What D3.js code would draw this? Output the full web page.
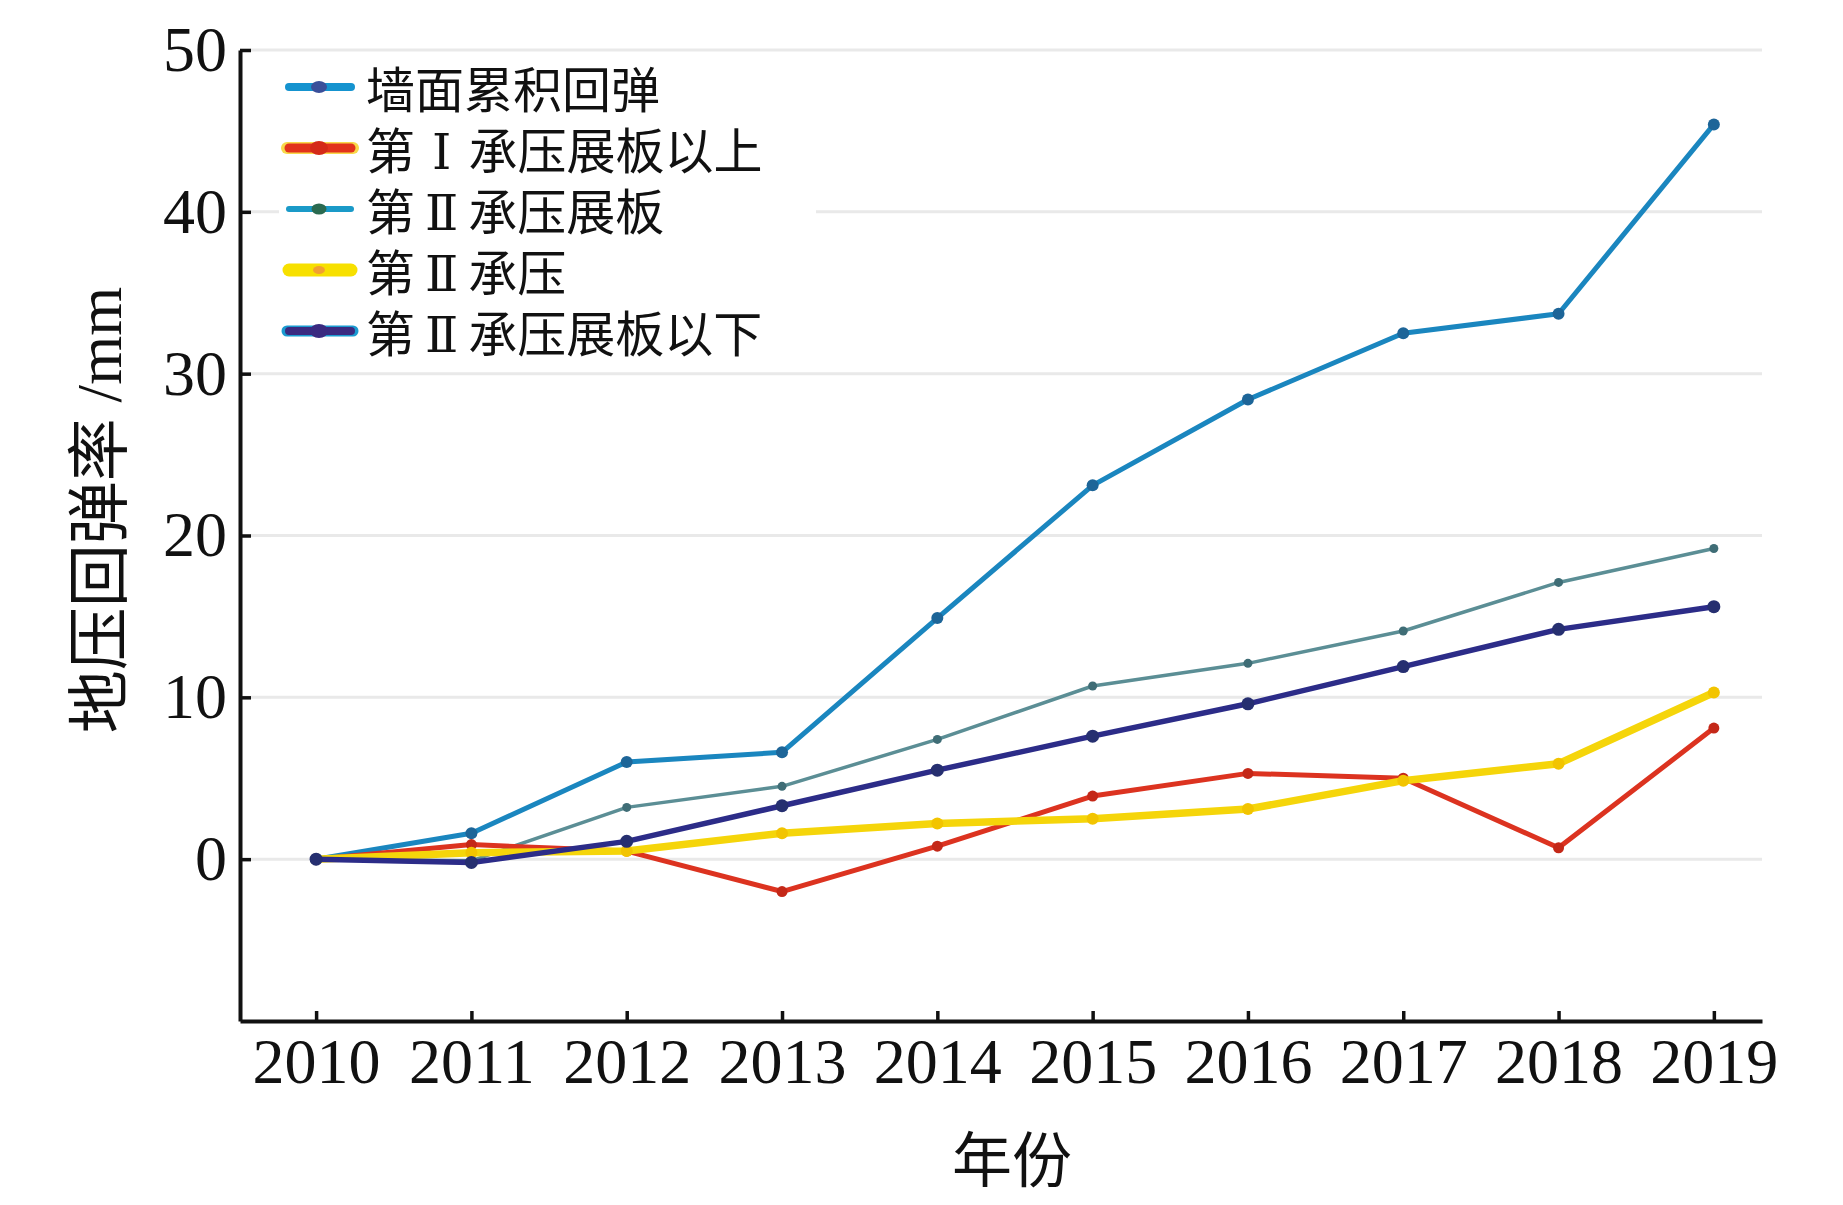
<!DOCTYPE html>
<html>
<head>
<meta charset="utf-8">
<script src="https://cdn.jsdelivr.net/npm/d3@7/dist/d3.min.js"></script>
<style>
  html, body { margin: 0; padding: 0; background: #fff; }
  svg { display: block; }
</style>
</head>
<body>
<svg id="chart" width="1843" height="1205"></svg>
<script>
// ---- data ----
const years = [2010, 2011, 2012, 2013, 2014, 2015, 2016, 2017, 2018, 2019];
const yTicks = [0, 10, 20, 30, 40, 50];
const seriesNames = ["墙面累积回弹", "第Ⅰ承压展板以上", "第Ⅱ承压展板", "第Ⅱ承压", "第Ⅱ承压展板以下"];
const wallRebound = [0, 1.6, 6.0, 6.6, 14.9, 23.1, 28.4, 32.5, 33.7, 45.4];
const aboveI      = [0, 0.9, 0.5, -2.0, 0.8, 3.9, 5.3, 5.0, 0.7, 8.1];
const plateII     = [0, -0.1, 3.2, 4.5, 7.4, 10.7, 12.1, 14.1, 17.1, 19.2];
const confinedII  = [0, 0.4, 0.5, 1.6, 2.2, 2.5, 3.1, 4.85, 5.9, 10.3];
const belowII     = [0, -0.2, 1.1, 3.3, 5.5, 7.6, 9.6, 11.9, 14.2, 15.6];
const xTitle = "年份";
const yTitle = "地压回弹率 /mm";

// ---- styles ----
const styles = [
  { values: wallRebound, color: "#1a86bf", width: 5,   r: 6,   mark: "#1d6598" },
  { values: aboveI,      color: "#dc3320", width: 5,   r: 5.5, mark: "#c42818" },
  { values: plateII,     color: "#5b8e95", width: 3.5, r: 4.5, mark: "#3f6d76" },
  { values: confinedII,  color: "#f5d50a", width: 7.5, r: 6,   mark: "#f2c400" },
  { values: belowII,     color: "#2c2c88", width: 5.5, r: 6.5, mark: "#262f70" }
];
const legendStyles = [
  { line: "#1593cf", w: 8,  halo: null,      dot: "#3a4f9a", dr: 6 },
  { line: "#e2321c", w: 9,  halo: "#f8d84a", dot: "#d42a18", dr: 7 },
  { line: "#1a9ac8", w: 6,  halo: null,      dot: "#2a6a50", dr: 5.5 },
  { line: "#f7e000", w: 13, halo: null,      dot: "#f2a030", dr: 4 },
  { line: "#3a2a80", w: 8,  halo: "#1a9ad0", dot: "#3a2a80", dr: 7 }
];
const drawOrder = [0, 2, 1, 3, 4];

const svg = d3.select("#chart");
const x = d3.scaleLinear().domain([2009.51, 2019.31]).range([240, 1762]);
const y = d3.scaleLinear().domain([-10, 50]).range([1021, 50]);

const serif = "'Liberation Serif','Times New Roman',serif";
const cjk = "'Liberation Serif','Noto Sans CJK SC',serif";
const roman = "'DejaVu Serif','Noto Serif','Liberation Serif','Noto Sans CJK SC',serif";

// gridlines
svg.append("g").selectAll("line").data(yTicks).join("line")
  .attr("x1", x.range()[0]).attr("x2", x.range()[1])
  .attr("y1", d => y(d)).attr("y2", d => y(d))
  .attr("stroke", "#e9e9e9").attr("stroke-width", 3);

// series
const line = d3.line().x((d, i) => x(years[i])).y(d => y(d));
const plot = svg.append("g");
drawOrder.forEach(k => {
  const s = styles[k];
  const g = plot.append("g");
  g.append("path").datum(s.values)
    .attr("d", line).attr("fill", "none")
    .attr("stroke", s.color).attr("stroke-width", s.width)
    .attr("stroke-linejoin", "round").attr("stroke-linecap", "round");
  g.selectAll("circle").data(s.values).join("circle")
    .attr("cx", (d, i) => x(years[i])).attr("cy", d => y(d))
    .attr("r", s.r).attr("fill", s.mark);
});

// legend
const lg = svg.append("g");
lg.append("rect").attr("x", 279).attr("y", 58).attr("width", 537).attr("height", 302).attr("fill", "#fff");
seriesNames.forEach((name, i) => {
  const ls = legendStyles[i];
  const cy = 87 + 61 * i;
  if (ls.halo) {
    lg.append("line").attr("x1", 287).attr("x2", 353).attr("y1", cy).attr("y2", cy)
      .attr("stroke", ls.halo).attr("stroke-width", ls.w + 3).attr("stroke-linecap", "round");
  }
  lg.append("line").attr("x1", 289).attr("x2", 351).attr("y1", cy).attr("y2", cy)
    .attr("stroke", ls.line).attr("stroke-width", ls.w).attr("stroke-linecap", "round");
  lg.append("ellipse").attr("cx", 319).attr("cy", cy).attr("rx", ls.dr + 2).attr("ry", ls.dr)
    .attr("fill", ls.dot);
  const t = lg.append("text").attr("x", 366).attr("y", cy + 21)
    .attr("font-family", cjk).attr("font-size", 49).attr("fill", "#111");
  const parts = name.split(/(Ⅰ|Ⅱ)/);
  if (parts.length === 1) {
    t.text(name);
  } else {
    const pad = parts[1] === "Ⅰ" ? 17 : 10;
    t.append("tspan").text(parts[0]);
    t.append("tspan").attr("dx", pad).attr("font-family", roman).attr("font-weight", 300).text(parts[1]);
    t.append("tspan").attr("dx", pad).text(parts[2]);
  }
});

// axes
const yAxis = d3.axisLeft(y).tickValues(yTicks).tickFormat(d3.format("d"))
  .tickSize(-11).tickSizeOuter(0).tickPadding(13);
const gy = svg.append("g").attr("transform", "translate(240,0)").call(yAxis);
const xAxis = d3.axisBottom(x).tickValues(years).tickFormat(d3.format("d"))
  .tickSize(-10).tickSizeOuter(0);
const gx = svg.append("g").attr("transform", "translate(0,1021)").call(xAxis);

[gx, gy].forEach(g => {
  g.select(".domain").attr("stroke", "#111").attr("stroke-width", 4);
  g.selectAll(".tick line").attr("stroke", "#111").attr("stroke-width", 3.5);
  g.selectAll(".tick text").attr("font-family", serif).attr("font-size", 64).attr("fill", "#111");
});
gx.selectAll(".tick text").attr("y", 62).attr("dy", 0);
gy.selectAll(".tick text").attr("dy", "0.32em");

// axis titles
svg.append("text").attr("x", 1012).attr("y", 1182)
  .attr("text-anchor", "middle").attr("font-family", cjk).attr("font-size", 60).attr("fill", "#111")
  .text(xTitle);
svg.append("text").attr("transform", "translate(121,510) rotate(-90)")
  .attr("text-anchor", "middle").attr("font-family", cjk).attr("font-size", 63).attr("fill", "#111")
  .text(yTitle);
</script>
</body>
</html>
